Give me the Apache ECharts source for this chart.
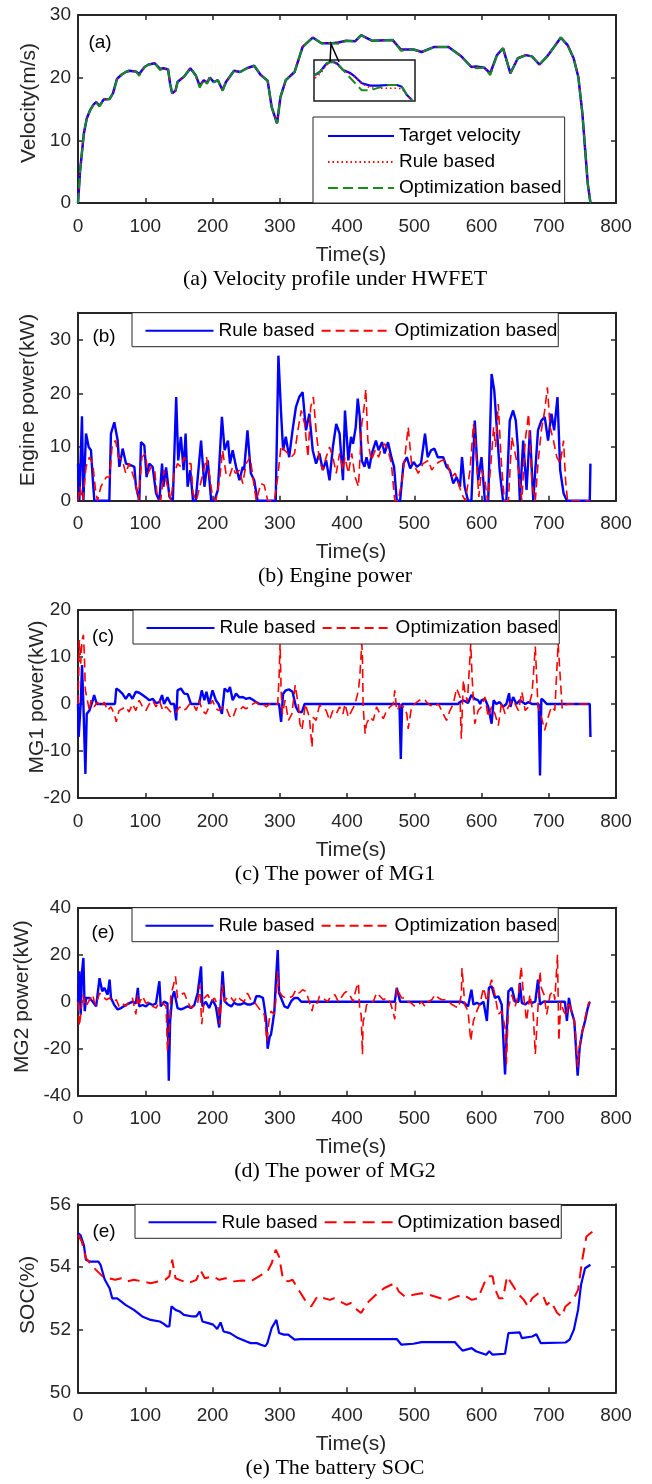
<!DOCTYPE html>
<html><head><meta charset="utf-8">
<script src="https://cdn.jsdelivr.net/npm/echarts@6/dist/echarts.min.js"></script>
<style>html,body{margin:0;padding:0;background:#fff}#c{width:652px;height:1484px}</style>
</head><body><div id="c"></div>
<script>
// ---------- DATA ----------
const xTicks = [0,100,200,300,400,500,600,700,800];
// (a) velocity [t, m/s]
const velTarget = [[0,0],[3,5],[8.7,11.1],[13,13.5],[18,14.8],[23,15.7],[27,16.1],[32,15.5],[38,16.5],[47,16.6],[52,17.5],[58,19.8],[65,20.5],[71,20.9],[76,21.1],[86,21.0],[91,20.6],[99,21.7],[105,22.1],[114,22.3],[122,21.4],[127,21.5],[134,21.3],[137,19],[140,17.5],[145,17.9],[148,19.3],[158,20.2],[167,21.5],[175,20.4],[181,18.7],[187,19.6],[192,19.2],[196,20.0],[202,19.3],[208,19.6],[215,18.0],[220,19.3],[232,21.1],[241,20.9],[251,21.5],[262,21.9],[272,20.4],[282,19.5],[288,15.3],[296,12.7],[301,16.9],[309,19.6],[322,20.9],[334,24.9],[349,26.4],[362,25.5],[378,25.5],[387,25.6],[399,25.9],[412,25.8],[421,26.8],[437,25.9],[468,26.0],[480,24.5],[499,24.5],[511,24.1],[530,24.9],[551,24.9],[570,23.4],[585,21.7],[592,21.8],[604,21.6],[613,20.7],[623,23.6],[632,24.7],[643,20.7],[654,23.1],[666,23.6],[675,23.4],[686,22.1],[697,23.3],[710,25.2],[718,26.4],[728,25.2],[737,23.1],[744,20.1],[750,14.3],[758,3.1],[762,0]];
const velRule = [[0,0],[3,5],[8.7,11.0],[13,13.4],[18,14.8],[23,15.7],[27,16.1],[32,15.5],[38,16.5],[47,16.6],[52,17.5],[58,19.8],[65,20.5],[71,20.9],[76,21.0],[86,21.0],[91,20.5],[99,21.7],[105,22.1],[114,22.3],[122,21.4],[127,21.5],[134,21.3],[137,19],[140,17.5],[145,17.9],[148,19.3],[158,20.2],[167,21.5],[175,20.4],[181,18.6],[187,19.6],[192,19.2],[196,20.0],[202,19.3],[208,19.6],[215,18.0],[220,19.3],[232,21.1],[241,20.9],[251,21.5],[262,21.9],[272,20.4],[282,19.5],[288,15.3],[296,12.7],[301,16.9],[309,19.6],[322,20.9],[334,24.9],[349,26.4],[362,25.5],[378,25.5],[387,25.6],[399,25.9],[412,25.8],[421,26.8],[437,25.9],[468,26.0],[480,24.5],[499,24.5],[511,24.1],[530,24.9],[551,24.9],[570,23.4],[585,21.7],[592,21.8],[604,21.6],[613,20.7],[623,23.6],[632,24.7],[643,20.7],[654,23.1],[666,23.6],[675,23.4],[686,22.1],[697,23.3],[710,25.2],[718,26.4],[728,25.2],[737,23.1],[744,20.1],[750,14.3],[758,3.1],[762,0]];
const velOpt = [[0,0],[3,5],[8.7,11.1],[13,13.5],[18,14.8],[23,15.7],[27,16.1],[32,15.4],[38,16.5],[47,16.6],[52,17.5],[58,19.8],[65,20.5],[71,20.9],[76,21.1],[86,21.0],[91,20.3],[99,21.7],[105,22.1],[114,22.3],[122,21.2],[127,21.5],[134,21.3],[137,19],[140,17.5],[145,17.9],[148,19.3],[158,20.2],[167,21.5],[175,20.4],[181,18.4],[187,19.6],[192,19.0],[196,20.0],[202,19.3],[208,19.6],[215,17.9],[220,19.3],[232,21.1],[241,20.9],[251,21.5],[262,21.9],[272,20.4],[282,19.5],[288,15.3],[296,12.7],[301,16.9],[309,19.6],[322,20.9],[334,24.9],[349,26.4],[362,25.5],[378,25.5],[387,25.4],[399,25.9],[412,25.8],[421,26.8],[437,25.9],[468,26.0],[480,24.3],[499,24.5],[511,24.1],[530,24.9],[551,24.9],[570,23.4],[585,21.7],[592,21.5],[604,21.6],[613,20.4],[623,23.6],[632,24.7],[643,20.7],[654,23.1],[666,23.6],[675,23.4],[686,22.1],[697,23.3],[710,25.2],[718,26.4],[728,25.2],[737,23.1],[744,20.1],[750,14.3],[758,3.1],[762,0]];
// inset (magnified part of (a))
const insetT = [350.5,353,356.3,358.8,361.3,364.4,368,370.3,373.7,377.8,381.8,386.7,391,393.5,396,398.5];
const insetTarget = [25.17,25.57,26.6,26.8,26.6,25.78,25.4,24.96,24.16,23.87,23.87,23.95,23.95,23.74,22.73,22.12];
const insetRule = [24.8,25.3,26.4,26.7,26.5,25.7,25.3,24.9,24.1,23.6,23.55,23.55,23.55,23.5,22.7,22.1];
const insetOpt = [25.17,25.57,26.6,26.8,26.6,25.78,24.8,24.2,23.3,23.3,23.6,23.95,23.95,23.74,22.73,22.12];
// (b) engine power [t, kW]
const engRule = [[0,6.9],[2,0],[4,0],[5.9,15.7],[8,0],[9.4,0],[11.9,12.5],[15.9,10],[19.3,9.4],[21.8,4.4],[24.3,0],[46.6,0],[49,12.5],[54,14.6],[59,11.2],[61.5,6.3],[66.4,9.7],[71.4,6.9],[78.8,6.6],[83.8,6.3],[86.2,2.6],[91.2,0],[93.7,10.9],[98.6,10.3],[102,4.4],[106,6.9],[111,6.3],[116,1.4],[121,0],[125,6.9],[127,2.6],[131,6.2],[136,0.7],[141,0],[146,19.3],[149,7.5],[153,11.9],[157,5.7],[160,12.5],[163,2.6],[167,5.7],[171,0],[175,0],[183,11.2],[188,2.6],[193,7.5],[198,0],[203,0],[208,2],[214,15.6],[218,9.4],[223,11.2],[226,6.9],[230,9.4],[235,6.3],[240,3.8],[245,6.3],[247,5.7],[252,13.1],[257,5.1],[262,3.8],[267,0],[294,0],[298,27],[302,16.2],[305,9.4],[309,11.9],[314,8.1],[319,13.1],[324,17.4],[329,19.3],[334,20.2],[339,13.1],[344,16.2],[349,9.4],[354,6.9],[359,8.8],[364,5.7],[369,7.5],[374,3.8],[379,10],[384,14.3],[389,12.5],[394,3.8],[397,16.8],[402,7.5],[406,11.9],[409,10.6],[413,13.7],[416,19],[419,15.6],[422,7.5],[426,6.3],[429,8.1],[433,6],[437,8.8],[443,11.2],[447,9.4],[452,10.9],[456,8.8],[461,10.9],[466,8.1],[470,6.3],[474,0],[479,0],[484,6.9],[489,8.1],[494,6],[499,7.2],[504,6.3],[510,6.9],[516,12.5],[520,8.1],[525,9.4],[530,9.7],[535,8.1],[543,8.1],[548,6.3],[553,5.7],[558,3.2],[563,4.4],[568,2.6],[571,8.1],[575,2.6],[580,0],[585,0],[590,14.9],[595,3.8],[600,8.1],[605,0],[610,0],[615,23.6],[619,20.5],[623,13.1],[627,5.7],[632,0],[637,0],[642,14.9],[647,16.8],[651,14.9],[654,10],[657,0],[662,11.2],[667,2],[672,13.1],[677,0],[684,13.1],[689,14.9],[694,15.6],[699,11.2],[704,16.2],[708,13.1],[713,19.3],[717,5.7],[722,1.4],[727,0],[761,0],[762,6.9]];
const engOpt = [[0,0],[3,2.6],[7,0],[12,6.3],[17,8.1],[22,6.9],[26,2],[29,0],[34,2.6],[42,4.4],[47,4.4],[51,10.6],[56,11.2],[60,8.1],[66,7.5],[71,5.1],[76,6.9],[81,5.1],[86,3.2],[90,0],[95,8.1],[100,8.8],[104,5.1],[109,6.3],[114,5.7],[118,0.7],[123,0],[128,5.7],[132,3.2],[138,0],[143,5.1],[148,6.9],[153,6.3],[158,8.1],[163,6.9],[168,6.9],[171,1.4],[176,0],[181,2.6],[186,5.1],[191,8.1],[196,4.4],[200,0.7],[205,0],[211,4.4],[215,9.4],[220,5.1],[225,4.4],[230,6.3],[234,5.1],[240,5.7],[245,3.2],[250,6.9],[256,8.1],[260,4.4],[265,0],[272,3.2],[277,2.9],[282,0],[292,0],[297,4.4],[302,10.3],[307,9.4],[312,8.8],[317,8.1],[322,8.8],[327,13.1],[332,16.8],[337,14.3],[342,8.1],[346,17.4],[350,19.3],[354,13.1],[359,7.5],[364,5.7],[369,8.1],[374,10],[379,8.1],[384,5.1],[389,8.8],[394,5.7],[397,8.1],[402,5.1],[407,8.8],[412,4.4],[417,2.6],[422,14.3],[426,18],[428,20.8],[431,11.2],[436,7.5],[442,9.4],[447,8.1],[452,10],[456,10.6],[461,9.4],[466,6.9],[471,0],[476,0],[482,3.8],[486,8.1],[491,13.7],[496,6.9],[501,6.3],[506,5.1],[513,6.9],[521,7.5],[526,5.7],[533,6.9],[541,7.5],[548,7.5],[555,4.4],[561,5.1],[566,3.2],[570,1.4],[576,0],[583,5.7],[588,14.3],[591,10.6],[596,0.7],[600,5.7],[605,3.8],[609,0],[614,6.9],[618,13.7],[621,10],[625,18],[629,8.1],[634,0],[640,0],[645,11.9],[650,8.8],[655,5.7],[660,0],[665,11.2],[670,16.2],[675,3.2],[680,0],[684,6.9],[689,13.1],[694,16.8],[698,21.1],[702,13.7],[707,11.2],[712,8.1],[717,6.9],[722,11.2],[725,3.8],[728,0],[761,0]];
// (c) MG1 power [t, kW]
const mg1Rule = [[0,0],[1,-7],[3,-7],[4,0],[6,8.3],[8,0],[11,-14.9],[13,-2.1],[17,-1.4],[22,0.8],[24,1.9],[28,0],[55,0],[57,3.3],[61,2.9],[66,2.2],[71,1.1],[76,2.2],[81,1.1],[86,2.6],[91,2.4],[96,1.9],[101,1.4],[106,0.8],[111,1.1],[116,0.2],[121,0.4],[125,1.9],[128,0],[133,1.4],[138,0],[143,0],[146,-3.5],[148,2.9],[153,3.3],[158,2.2],[163,2.1],[168,0],[180,0],[184,2.9],[188,0.8],[191,2.6],[195,0],[200,2.9],[205,0.8],[209,0],[214,-2.1],[218,3.3],[223,2.6],[226,3.6],[230,0.8],[235,2.2],[240,1.4],[245,1.5],[250,1.1],[255,1.3],[260,0.9],[265,0.4],[270,0],[299,0],[302,-3.8],[305,2.2],[309,2.9],[314,3.1],[319,2.6],[324,-0.6],[328,-1.7],[333,-1.7],[337,0],[478,0],[480,-11.7],[482,0],[565,0],[568,0.4],[573,0.8],[580,0.2],[585,1.9],[590,1.1],[595,0.8],[598,0],[600,0.8],[605,1.1],[610,-0.6],[615,-4.2],[618,0.8],[622,0],[627,0.4],[632,-0.6],[637,0],[641,2.3],[643,-0.6],[647,1.5],[652,0],[657,0.8],[665,0],[670,0.4],[675,0],[685,0],[687,-15.2],[689,1.1],[692,0.8],[697,0],[761,0],[762,-7]];
const mg1Opt = [[0,0],[1,5.8],[2,13.6],[4,8.6],[6,13.6],[8,14.7],[9.4,10.7],[11,2.9],[13,1.5],[17,-1.4],[19.3,0.8],[24,-0.6],[29,0.4],[34,-0.6],[39,0.4],[44,-1.4],[49,-0.6],[54,-2.1],[57,-3.8],[61,-1.4],[66,-1],[71,-0.6],[76,-1.7],[81,0],[86,-1.4],[91,0.8],[96,-0.6],[101,-1.4],[106,0],[111,0.8],[116,-0.6],[121,0.8],[126,-1.4],[131,-0.6],[136,-1.4],[141,-2.1],[146,-1.7],[151,-0.6],[156,-1.4],[161,-1],[166,0],[171,0],[176,-1.4],[180,0.8],[185,-1.4],[190,-2.1],[195,-0.6],[200,0.8],[205,-1],[210,-1.4],[215,-0.6],[220,-0.6],[225,-2.5],[230,-3.1],[235,-1],[240,-1.4],[245,-0.6],[250,-1],[255,-0.6],[260,0],[265,0.4],[270,-0.3],[275,0],[280,-0.6],[285,0],[297,0],[299,5.8],[300.5,13],[302,2.9],[304,-2.1],[308,0.8],[313,-3.5],[318,-2.1],[323,4],[328,-0.6],[330,-4.2],[333,-5.6],[338,0],[344,-2.8],[348,-9.2],[350,-2.8],[354,-3.5],[359,-0.3],[364,-0.6],[369,-1.4],[374,-3.5],[379,-1.4],[384,-2.1],[389,-0.6],[394,-2.1],[397,0],[402,-2.8],[407,-1.4],[412,0],[417,2.9],[419,5.8],[422,12.9],[423,10],[424,-0.6],[427,-6.3],[429,-4.2],[434,-2.8],[439,-3.5],[444,-0.6],[449,-2.1],[454,-3.1],[459,-1.4],[464,-0.6],[469,0],[471,2.9],[474,-1.4],[479,-0.3],[484,-0.6],[489,-2.1],[491,-5.3],[496,-0.6],[504,0.4],[511,1.1],[516,0.8],[521,0],[528,-0.6],[536,0],[543,-2.1],[548,-3.5],[553,-1.4],[558,0],[563,3.3],[568,1.5],[570,-7.4],[573,5.1],[575,2.9],[579,0.4],[584,12.9],[586,5.8],[590,-4.2],[595,-1.4],[600,-0.6],[605,1.5],[610,-2.8],[615,-0.6],[620,-2.1],[625,-4.6],[630,0.4],[635,-2.1],[640,-0.6],[645,0.8],[650,0],[655,-1.4],[660,2.6],[665,-1.4],[670,-0.6],[675,2.2],[677,5.8],[680,12.2],[682,5.8],[684,-0.6],[689,-2.8],[694,-5.6],[699,-2.8],[704,-0.6],[709,-1.4],[714,12.9],[717,5.8],[720,-1],[727,0],[761,0]];
// (d) MG2 power [t, kW]
const mg2Rule = [[0,0],[2,12.9],[4,-5.5],[6,12.9],[8,18.6],[10,-4],[12,1.6],[17,1.6],[22,0],[27,-2],[32,10],[36,4.4],[39,5.9],[44,3],[47,9.4],[49,1.6],[54,-1.4],[59,-3.3],[64,-2.7],[71,-1.4],[76,-0.7],[81,0],[86,-0.7],[89,5.9],[91,-2],[96,-1.4],[101,-2],[106,-0.7],[111,-1.4],[116,-0.7],[121,8.7],[123,-2],[128,0],[133,-0.7],[135,-33.6],[137,-8.3],[140,1.6],[143,4.4],[148,-2.7],[153,-3.3],[158,-2.7],[163,-2],[168,-2.7],[173,-1.4],[178,3.7],[183,15],[185,-2],[190,0],[195,-2.7],[200,0.8],[205,-2],[210,-11],[213,3],[215,12.9],[218,0.2],[223,-1.2],[228,-2],[232,-0.5],[237,-1.2],[242,-1.2],[247,-0.5],[252,-1.2],[257,-1.2],[262,-0.5],[265,2.3],[270,2.3],[275,1.6],[277,-2],[280,-8.3],[282,-20],[285,-15],[287,-13.9],[290,-8.3],[292,-4],[294,7.3],[297,22],[299,3.7],[302,1.6],[307,-2],[312,-2.7],[317,0.2],[322,1.6],[327,1.6],[332,0],[471,0],[474,5.9],[479,0],[570,0],[575,-0.7],[580,-2],[585,5.1],[588,-1.2],[593,-0.5],[598,-1.2],[603,0],[608,-8.2],[611,5.9],[615,6.6],[620,1.6],[625,2.3],[630,-1.2],[635,-31],[637,-16.7],[640,4.4],[645,5.9],[650,0],[655,0],[657,8],[660,-0.5],[665,-1.2],[670,0],[675,-0.5],[680,0],[684,9.4],[687,-1.2],[692,0],[724,0],[727,-8.2],[730,1.6],[733,-3.3],[738,-8.2],[743,-31.5],[746,-19.5],[750,-12.5],[754,-8.2],[758,-2.7],[761,0]];
const mg2Opt = [[0,0],[2,-10.4],[4,-5.5],[7,3],[10,0],[12,-2],[17,0.8],[22,3],[24,0],[27,-1.4],[32,3.7],[37,2.3],[42,0.8],[47,1.6],[52,0],[57,0.8],[61,-2],[66,-0.7],[71,-2],[76,0],[81,1.6],[86,-5.4],[89,3],[91,-0.7],[96,2.3],[101,-0.7],[106,0],[111,-2],[116,-2.7],[121,0],[126,-0.7],[131,-2],[133,-21],[136,-11],[138,3],[141,5.9],[145,10.8],[148,1.6],[153,3],[158,3.7],[163,0],[168,-2.7],[173,-1.4],[178,-0.7],[181,7.3],[184,-9.6],[188,1.6],[193,3],[198,0],[203,1.6],[208,-2],[211,-9.6],[214,7.3],[218,0],[223,2.3],[228,1.6],[232,0],[237,2.3],[242,0.8],[247,0],[252,3.7],[257,0.8],[262,0],[267,-2],[272,-4],[277,-5.4],[281,-16.7],[284,-8.3],[287,-4],[292,-5.4],[294,0],[297,12.9],[299,4.4],[304,2.3],[309,1.6],[314,1.6],[319,2.3],[324,5.1],[329,3.7],[334,5.1],[339,4.4],[344,0],[348,-4],[351,0],[356,-0.7],[359,2.3],[364,1.6],[371,0],[376,2.3],[382,3],[387,0],[391,1.6],[396,3.7],[399,4.3],[404,3],[409,0],[412,3.7],[414,5.9],[417,8],[419,-4],[421,-5.4],[423,-22.4],[424,-8.3],[427,-5.4],[429,-1.4],[434,0],[439,0],[444,3.7],[449,2.3],[454,0.8],[459,1.6],[464,0],[469,-4.7],[471,-7.5],[474,5.9],[476,4.4],[481,1.6],[486,1.6],[491,0],[496,-0.7],[501,-2],[506,-1.4],[511,0],[516,-2],[521,0],[526,0.8],[531,3],[536,1.6],[541,0.8],[546,0.8],[551,0],[556,-1.2],[561,-2],[566,-2.6],[570,3],[571,14.3],[573,7.3],[575,-1.2],[580,-4],[584,-16.7],[588,-8.2],[593,-4],[598,-0.5],[603,5.9],[608,0],[613,7.3],[615,9.4],[620,3],[625,-5.4],[630,-4],[635,-11],[637,-26.6],[640,-2.6],[645,3],[650,-2],[655,3],[659,15],[662,4.4],[667,-8.2],[672,3],[677,-5.4],[680,-22.3],[684,-2.6],[687,12.9],[689,5.9],[693,3],[697,-5.4],[702,3],[707,4.4],[709,0.8],[713,20],[715,-16.7],[718,0],[722,-4],[727,-6.3],[729,0],[734,-4],[739,-9.6],[743,-28],[746,-18.5],[750,-12.5],[754,-7],[759,-0.7],[761,0]];
// (e) battery SOC [t, %]
const socRule = [[0,55.08],[3.7,55.02],[8.7,54.7],[11.8,54.23],[18,54.17],[30.4,54.17],[33.5,54.07],[39.7,53.6],[47,53.32],[50.9,53.0],[58.3,53.0],[70.7,52.79],[83.1,52.63],[95.5,52.42],[108,52.31],[121.6,52.26],[126.5,52.2],[132.7,52.1],[135.8,52.1],[139,52.74],[145,52.63],[151,52.58],[157.5,52.47],[170,52.42],[176,52.42],[181,52.58],[185,52.26],[195,52.2],[201,52.16],[207,52.02],[212,52.23],[216.5,51.94],[226,51.89],[238,51.73],[250.6,51.62],[256.8,51.57],[266,51.57],[272,51.52],[278.5,51.47],[281.6,51.57],[288,52.05],[295,52.31],[299,51.89],[306,51.84],[312.6,51.84],[322,51.68],[331,51.7],[474,51.7],[481,51.52],[498.6,51.55],[511,51.6],[560.6,51.6],[563.8,51.52],[571.8,51.33],[585.5,51.41],[591.7,51.31],[607,51.2],[611.5,51.31],[616.5,51.2],[635,51.23],[640,51.89],[656.8,51.91],[660,51.73],[675.4,51.78],[681.6,51.85],[688,51.57],[725,51.59],[731,51.68],[737.4,52.0],[743.6,52.63],[748,53.43],[754,53.96],[762,54.07]];
const socOpt = [[0,55.02],[5.6,54.81],[11.8,54.28],[18,54.12],[27,53.9],[36.6,53.7],[45.9,53.64],[55.2,53.59],[64.5,53.64],[73.8,53.54],[83.1,53.59],[95.5,53.54],[108,53.48],[120,53.54],[129.6,53.59],[135.8,53.7],[140,54.23],[145,53.64],[151,53.59],[163.7,53.48],[176,53.59],[182,53.9],[188.5,53.64],[201,53.7],[210,53.59],[219.5,53.64],[232,53.54],[244,53.57],[256.8,53.54],[269,53.7],[281.6,53.85],[288,54.12],[294,54.55],[299,54.33],[305,53.59],[312.6,53.54],[319,53.59],[328,53.27],[337.4,52.95],[346.7,52.74],[356,53.06],[374.6,52.95],[380.8,53.0],[390,52.9],[399.4,52.79],[405.6,52.85],[415,52.63],[421,52.53],[430,52.85],[443,53.11],[455,53.32],[470.8,53.48],[477,53.22],[486,53.06],[498.6,53.11],[511,53.16],[523,53.11],[539,53.0],[551,52.95],[563.8,53.06],[573,53.11],[585.5,52.95],[594.8,53.0],[604,53.48],[610,53.7],[616.5,53.7],[619.6,53.32],[626,53.0],[632,53.0],[638,53.7],[647.5,53.38],[653.7,53.16],[663,52.95],[669,52.74],[675.4,53.0],[684.7,53.16],[691,53.11],[697,52.79],[703,52.9],[712.6,52.53],[719,52.42],[725,52.74],[731,52.85],[737.4,53.0],[743.6,53.27],[749.8,54.23],[756,54.97],[765,55.13]];

const yLabels = ['Velocity(m/s)','Engine power(kW)','MG1 power(kW)','MG2 power(kW)','SOC(%)'];
const captions = ['(a) Velocity profile under HWFET','(b) Engine power','(c) The power of MG1','(d) The power of MG2','(e) The battery SOC'];
const panelTags = ['(a)','(b)','(c)','(e)','(e)'];
const yRanges = [[0,30,10],[0,35,10],[-20,20,10],[-40,40,20],[50,56,2]];
const legendNames = {vT:'Target velocity', vR:'Rule based', vO:'Optimization based', eR:'Rule based', eO:'Optimization based', m1R:'Rule based', m1O:'Optimization based', m2R:'Rule based', m2O:'Optimization based', sR:'Rule based', sO:'Optimization based'};

// ---------- LAYOUT ----------
const FONT = "'Liberation Sans', Arial, sans-serif";
const SERIF = "'Liberation Serif', 'Times New Roman', serif";
const AX = '#262626';
const GL = 78, GW = 538, GH = 188;
const tops = [15, 312.7, 610, 907.7, 1204.3];
const yNamePos = [[29,103],[28,400],[37,697],[22,996.7],[28,1294.8]];
const tagPos = [[100,42.7],[104,337],[103,637],[103,933],[104,1232]];
const BLUE = '#0000FF', RED = '#FF0000', GREEN = '#1a8c1a';

const grids = [], xAxes = [], yAxes = [], graphics = [];
tops.forEach((t, i) => {
  grids.push({left: GL, top: t, width: GW, height: GH, show: false});
  const line = {show: true, onZero: false, lineStyle: {color: AX, width: 2}};
  const tick = {show: true, inside: true, length: 5, lineStyle: {color: AX, width: 1.5}};
  xAxes.push({gridIndex: i, type: 'value', min: 0, max: 800, interval: 100, position: 'bottom',
    axisLine: line, axisTick: tick, splitLine: {show: false},
    axisLabel: {color: AX, fontSize: 19, fontFamily: FONT, margin: 14, showMinLabel: true, showMaxLabel: true}});
  xAxes.push({gridIndex: i, type: 'value', min: 0, max: 800, interval: 100, position: 'top',
    axisLine: line, axisTick: tick, splitLine: {show: false}, axisLabel: {show: false}});
  const [mn, mx, iv] = yRanges[i];
  yAxes.push({gridIndex: i, type: 'value', min: mn, max: mx, interval: iv, position: 'left',
    axisLine: line, axisTick: tick, splitLine: {show: false},
    axisLabel: {color: AX, fontSize: 19, fontFamily: FONT, margin: 7, showMinLabel: true, showMaxLabel: true,
      formatter: v => (i === 1 && v > 30) ? '' : String(v)}});
  yAxes.push({gridIndex: i, type: 'value', min: mn, max: mx, interval: iv, position: 'right',
    axisLine: line, axisTick: tick, splitLine: {show: false}, axisLabel: {show: false}});
  const bottom = t + GH;
  graphics.push({type: 'text', x: yNamePos[i][0], y: yNamePos[i][1], rotation: Math.PI / 2, z: 10,
    style: {text: yLabels[i], fill: AX, fontSize: 21, fontFamily: FONT, align: 'center', verticalAlign: 'middle'}});
  graphics.push({type: 'text', x: 351, y: bottom + 52, z: 10,
    style: {text: 'Time(s)', fill: AX, fontSize: 21, fontFamily: FONT, align: 'center', verticalAlign: 'middle'}});
  graphics.push({type: 'text', x: 335, y: bottom + 76, z: 10,
    style: {text: captions[i], fill: '#000', fontSize: 22, fontFamily: SERIF, align: 'center', verticalAlign: 'middle'}});
  graphics.push({type: 'text', x: tagPos[i][0], y: tagPos[i][1], z: 10,
    style: {text: panelTags[i], fill: '#000', fontSize: 19, fontFamily: FONT, align: 'center', verticalAlign: 'middle'}});
});
// inset grid
grids.push({left: 314, top: 60, width: 101, height: 41, show: true, borderColor: '#1a1a1a', borderWidth: 1.5, backgroundColor: '#fff'});
xAxes.push({gridIndex: 5, type: 'value', min: 350, max: 400, show: false});
yAxes.push({gridIndex: 5, type: 'value', min: 22, max: 27, show: false});
graphics.push({type: 'polyline', z: 10, shape: {points: [[330, 62], [331, 44], [339, 62]]},
  style: {stroke: '#000', lineWidth: 1.5, fill: null}});

function ser(name, gi, data, color, width, type, xi, yi) {
  return {name, type: 'line', xAxisIndex: xi !== undefined ? xi : gi * 2, yAxisIndex: yi !== undefined ? yi : gi * 2,
    data, symbol: 'none', showSymbol: false, silent: true, clip: true,
    lineStyle: {color, width, type}, itemStyle: {color}};
}
const zipT = (t, v) => t.map((x, k) => [x, v[k]]);
const DASH = [9, 5], GDASH = [10, 5], DOT = [1.5, 3], LDASH = [12, 7];
const series = [
  ser('vT', 0, velTarget, BLUE, 2.5, 'solid'),
  ser('vR', 0, velRule, RED, 1.6, DOT),
  ser('vO', 0, velOpt, GREEN, 2, GDASH),
  ser('iT', 5, zipT(insetT, insetTarget), BLUE, 2.2, 'solid', 10, 10),
  ser('iR', 5, zipT(insetT, insetRule), RED, 1.6, DOT, 10, 10),
  ser('iO', 5, zipT(insetT, insetOpt), GREEN, 2, GDASH, 10, 10),
  ser('eR', 1, engRule, BLUE, 2.4, 'solid'),
  ser('eO', 1, engOpt, RED, 1.6, DASH),
  ser('m1R', 2, mg1Rule, BLUE, 2.4, 'solid'),
  ser('m1O', 2, mg1Opt, RED, 1.6, DASH),
  ser('m2R', 3, mg2Rule, BLUE, 2.4, 'solid'),
  ser('m2O', 3, mg2Opt, RED, 1.6, DASH),
  ser('sR', 4, socRule, BLUE, 2.2, 'solid'),
  ser('sO', 4, socOpt, RED, 2, LDASH)
];

const legTxt = {fontSize: 19, fontFamily: FONT, color: '#000'};
const fmt = n => legendNames[n] || n;
const legends = [
  {data: ['vT', 'vR', 'vO'], orient: 'vertical', left: 313, top: 117, itemWidth: 66, itemHeight: 14, itemGap: 7,
   padding: [9.5, 3, 5.5, 14], borderColor: AX, borderWidth: 1, backgroundColor: '#fff', textStyle: legTxt, formatter: fmt,
   selectedMode: false, z: 20, itemStyle: {opacity: 0}}
];
[['eR','eO',132],['m1R','m1O',133],['m2R','m2O',132],['sR','sO',135]].forEach((d, k) => {
  legends.push({data: [d[0], d[1]], orient: 'horizontal', left: d[2], top: tops[k + 1], itemWidth: 68, itemHeight: 14, itemGap: 6,
    padding: [8.5, 1, 6.5, 12.5], borderColor: AX, borderWidth: 1, backgroundColor: '#fff', textStyle: legTxt, formatter: fmt,
    selectedMode: false, z: 20, itemStyle: {opacity: 0}});
});

const chart = echarts.init(document.getElementById('c'), null, {renderer: 'canvas'});
chart.setOption({
  animation: false,
  backgroundColor: '#fff',
  grid: grids, xAxis: xAxes, yAxis: yAxes, legend: legends, series, graphic: graphics
});
</script></body></html>
